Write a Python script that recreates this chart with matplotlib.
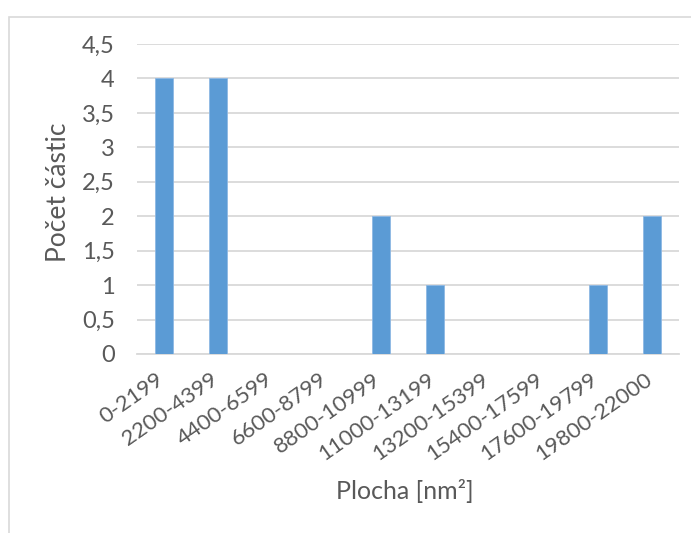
import matplotlib
matplotlib.use("Agg")
import matplotlib.pyplot as plt
from matplotlib.patches import Rectangle
from matplotlib.transforms import ScaledTranslation

categories = ["0-2199", "2200-4399", "4400-6599", "6600-8799", "8800-10999",
              "11000-13199", "13200-15399", "15400-17599", "17600-19799", "19800-22000"]
counts = [4, 4, 0, 0, 2, 1, 0, 0, 1, 2]
yticks = [0, 0.5, 1, 1.5, 2, 2.5, 3, 3.5, 4, 4.5]
ytick_labels = ["0", "0,5", "1", "1,5", "2", "2,5", "3", "3,5", "4", "4,5"]

plt.rcParams['font.family'] = ['Lato', 'DejaVu Sans']
txt = '#595959'

fig = plt.figure(figsize=(6.91, 5.33), dpi=100)
fig.patches.append(Rectangle((9/691, -0.1), 1.2, 1 - 17/533 + 0.1, transform=fig.transFigure,
                             fill=False, edgecolor='#d9d9d9', linewidth=1.2))
ax = fig.add_axes([137/691, 1 - 354/533, (679 - 137)/691, (354 - 44)/533])
x = list(range(len(categories)))
ax.bar(x, counts, width=0.33, color='#5B9BD5', edgecolor='#8DB8E4', linewidth=0.6, zorder=3)
ax.set_xlim(-0.5, len(categories) - 0.5)
ax.set_ylim(0, 4.5)
ax.set_yticks(yticks)
ax.set_yticklabels(ytick_labels, fontsize=17, color=txt)
ax.set_xticks(x)
ax.set_xticklabels(categories, rotation=35, ha='right', rotation_mode='anchor', fontsize=16, color=txt)
ax.tick_params(axis='both', length=0)
ax.tick_params(axis='y', pad=16)
ax.tick_params(axis='x', pad=11)
offset = ScaledTranslation(-8/100, 0, fig.dpi_scale_trans)
for lbl in ax.get_xticklabels():
    lbl.set_transform(lbl.get_transform() + offset)
ax.grid(axis='y', color='#d9d9d9', linewidth=1.3, zorder=0)
for s in ['top', 'right', 'left']:
    ax.spines[s].set_visible(False)
ax.spines['bottom'].set_color('#d9d9d9')
ax.spines['bottom'].set_linewidth(1.3)
fig.text(59/691, 1 - 192/533, "Počet částic", fontsize=19, color=txt, ha='center', va='center', rotation=90)
fig.text(405/691, 1 - 491/533, "Plocha [nm²]", fontsize=18, color=txt, ha='center', va='center')
fig.savefig("out.png", dpi=100)
